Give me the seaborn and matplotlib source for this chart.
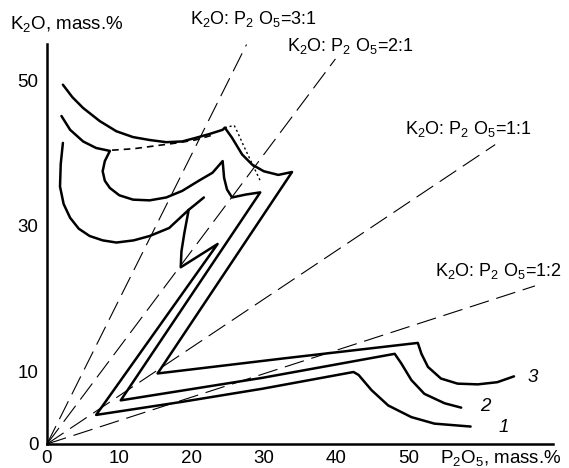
import matplotlib
matplotlib.use("Agg")
import matplotlib.pyplot as plt
import seaborn as sns

# ---- data ----
ratio_labels = ["3:1", "2:1", "1:1", "1:2"]
ratio_slopes = [1.99, 1.327, 0.664, 0.322]
ratio_x_end = [27.6, 39.9, 62.0, 67.5]

curve1_x = [2.2, 1.9, 1.8, 2.3, 3.2, 4.4, 5.9, 7.7, 9.6, 12.0, 14.2, 16.9, 19.6, 19.0, 18.6, 18.5, 23.6,
            6.8, 18.7, 29.8, 42.4, 43.1, 44.9, 47.2, 50.4, 53.6, 58.6]
curve1_y = [41.4, 38.5, 35.4, 33.0, 31.1, 29.6, 28.6, 28.0, 27.7, 28.0, 28.6, 29.7, 32.2, 29.0, 26.5, 24.3, 27.5,
            4.0, 5.8, 7.6, 9.9, 9.5, 7.4, 5.3, 3.7, 2.8, 2.4]
curve1_ext_x = [19.6, 20.6, 21.7]
curve1_ext_y = [32.2, 33.0, 33.9]

curve2_x = [2.0, 3.2, 5.0, 6.8, 8.7, 8.0, 7.7, 8.0, 8.7, 10.0, 11.9, 14.2, 16.5, 18.7, 21.0, 22.9, 24.3,
            24.5, 24.9, 25.6, 27.5, 29.5, 10.2, 29.8, 48.1, 49.0, 50.4, 52.2, 55.0, 57.3]
curve2_y = [45.1, 43.2, 41.6, 40.7, 40.3, 38.9, 37.5, 36.2, 35.2, 34.2, 33.6, 33.5, 33.9, 34.8, 36.2, 37.3, 38.9,
            36.6, 35.0, 33.9, 34.3, 34.6, 6.0, 9.1, 12.4, 11.1, 8.8, 6.9, 5.6, 5.0]
curve2_meta_x = [9.0, 12.0, 15.0, 18.0, 20.5, 23.0]
curve2_meta_y = [40.4, 40.6, 41.0, 41.4, 41.8, 42.5]

curve3_x = [2.2, 3.5, 5.0, 7.3, 9.6, 11.9, 14.2, 16.5, 18.7, 20.6, 22.4, 24.3, 24.6, 25.6, 27.0, 28.4, 30.0,
            32.0, 33.9, 15.3, 33.0, 51.3, 51.8, 52.7, 54.5, 56.8, 59.6, 62.3, 64.6]
curve3_y = [49.4, 47.7, 46.2, 44.4, 43.0, 42.2, 41.8, 41.5, 41.6, 42.1, 42.6, 43.2, 43.5, 42.1, 39.8, 38.4, 37.5,
            37.0, 37.4, 9.7, 11.8, 13.9, 12.4, 10.6, 9.0, 8.3, 8.2, 8.5, 9.3]
curve3_dot_x = [24.6, 25.9, 26.3, 27.3, 28.4, 29.5]
curve3_dot_y = [43.5, 43.8, 43.0, 40.8, 38.5, 36.2]

curve_names = ["1", "2", "3"]
curve_label_x = [62.4, 59.9, 66.5]
curve_label_y = [2.2, 5.1, 9.2]

x_ticks = [0, 10, 20, 30, 40, 50, 60, 70]
x_ticklabels = ["0", "10", "20", "30", "40", "50", "", ""]
y_ticks = [0, 10, 20, 30, 40, 50, 55]
y_ticklabels = ["0", "10", "", "30", "", "50", ""]

# ---- style ----
sns.set_style("white")
plt.rcParams["font.family"] = ["Liberation Sans", "DejaVu Sans"]
plt.rcParams["mathtext.fontset"] = "custom"
plt.rcParams["mathtext.rm"] = "Liberation Sans"
plt.rcParams["mathtext.it"] = "Liberation Sans:italic"
plt.rcParams["text.color"] = "black"

fig = plt.figure(figsize=(5.69, 4.68), dpi=100)
ax = fig.add_axes([47 / 569, 24 / 468, 506 / 569, 400 / 468])
ax.set_xlim(0, 70)
ax.set_ylim(0, 55)

# ratio lines
for slope, xe in zip(ratio_slopes, ratio_x_end):
    sns.lineplot(x=[0, xe], y=[0, slope * xe], ax=ax, color="black", lw=0.8,
                 linestyle=(0, (18, 7)), sort=False, estimator=None, clip_on=False)

# solubility curves
for xs, ys in [(curve1_x, curve1_y), (curve2_x, curve2_y), (curve3_x, curve3_y)]:
    sns.lineplot(x=xs, y=ys, ax=ax, color="black", lw=1.8, sort=False, estimator=None)
sns.lineplot(x=curve1_ext_x, y=curve1_ext_y, ax=ax, color="black", lw=1.8, sort=False, estimator=None)
sns.lineplot(x=curve2_meta_x, y=curve2_meta_y, ax=ax, color="black", lw=1.2,
             linestyle=(0, (4, 3)), sort=False, estimator=None)
sns.lineplot(x=curve3_dot_x, y=curve3_dot_y, ax=ax, color="black", lw=1.0,
             linestyle=(0, (1.5, 2)), sort=False, estimator=None)

# curve numbers
for name, lx, ly in zip(curve_names, curve_label_x, curve_label_y):
    ax.text(lx, ly, name, fontsize=13.5, style="italic", ha="left", va="center", color="black")

# ratio labels
ratio_text_pos = [(19.8, 58.4), (33.2, 54.7), (49.5, 43.3), (53.7, 23.8)]
for lab, (tx, ty) in zip(ratio_labels, ratio_text_pos):
    ax.text(tx, ty, r"K$_2$O: P$_2$ O$_5$=" + lab, fontsize=13, ha="left", va="center",
            clip_on=False, color="black")

# axis titles
ax.text(-5.1, 57.8, r"K$_2$O, mass.%", fontsize=13.5, ha="left", va="center", clip_on=False, color="black")
ax.text(54.4, -1.9, r"P$_2$O$_5$, mass.%", fontsize=13.5, ha="left", va="center", clip_on=False, color="black")

# axes styling
for side in ["top", "right"]:
    ax.spines[side].set_visible(False)
for side in ["left", "bottom"]:
    ax.spines[side].set_linewidth(1.8)
    ax.spines[side].set_color("black")
ax.set_xticks(x_ticks)
ax.set_xticklabels(x_ticklabels)
ax.set_yticks(y_ticks)
ax.set_yticklabels(y_ticklabels)
ax.tick_params(axis="both", direction="in", length=5, width=1.5, labelsize=13.5,
               colors="black", labelcolor="black")
ax.tick_params(axis="x", pad=4)
ax.tick_params(axis="y", pad=6)
ax.set_xlabel("")
ax.set_ylabel("")
ax.grid(False)

fig.savefig("out.png", dpi=100)
